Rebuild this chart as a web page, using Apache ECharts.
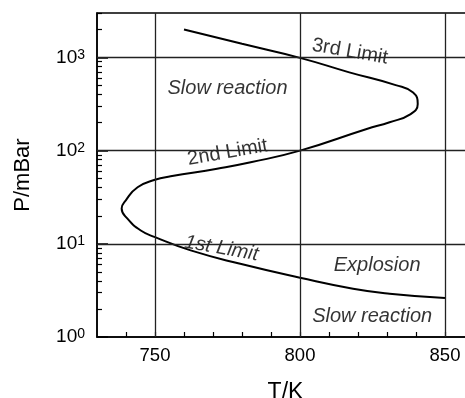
<!DOCTYPE html>
<html>
<head>
<meta charset="utf-8">
<script src="https://cdn.jsdelivr.net/npm/echarts@6/dist/echarts.min.js"></script>
<style>html,body{margin:0;padding:0;background:#fff}#c{width:465px;height:398px}</style>
</head>
<body>
<div id="c"></div>
<script>
// Explosion-limit curve (T in K, P in mBar), traced in path order
const temperatureK = [760, 780, 800, 817, 833, 839, 840.6, 838, 830.9, 823, 800, 783, 771.4, 755.4, 750, 744, 740, 738.5, 740.5, 745.1, 750, 762.3, 779.4, 800, 818.3, 830.9, 850];
const pressureMbar = [2000, 1400, 990, 692, 505, 420, 317, 245, 202, 171, 100, 75, 64, 53, 48.7, 40.5, 29.5, 24, 18.6, 13.9, 11.8, 8.5, 6.1, 4.33, 3.30, 2.92, 2.62];

// Grid lines and ticks
const gridLinesT = [750, 800, 850];
const gridLinesP = [10, 100, 1000];
const xLabelValues = [750, 800, 850];
const xMinorTicks = [740, 750, 760, 770, 780, 790, 800, 810, 820, 830, 840, 850];
const yDecades = [1, 10, 100, 1000];
const yMinorTicks = [2,3,4,5,6,7,8,9,20,30,40,50,60,70,80,90,200,300,400,500,600,700,800,900,2000,3000];

// Region / curve annotations
const annotationText = ['Slow reaction', '3rd Limit', '2nd Limit', '1st Limit', 'Explosion', 'Slow reaction'];
const annotationT = [775, 817.2, 775, 772.9, 826.6, 824.9];
const annotationP = [463, 1154, 95.4, 8.93, 5.87, 1.67];

const FONT = 'Liberation Sans, Arial, Helvetica, sans-serif';
const annotationStyle = [
  {rotate: 0, fontStyle: 'italic'},
  {rotate: -10, fontStyle: 'normal'},
  {rotate: 10, fontStyle: 'normal'},
  {rotate: -10, fontStyle: 'italic'},
  {rotate: 0, fontStyle: 'italic'},
  {rotate: 0, fontStyle: 'italic'}
];

const curveData = temperatureK.map((t, i) => [t, pressureMbar[i]]);
const annData = annotationText.map((txt, i) => ({
  value: [annotationT[i], annotationP[i]],
  name: txt,
  label: {rotate: annotationStyle[i].rotate, fontStyle: annotationStyle[i].fontStyle}
}));

const chart = echarts.init(document.getElementById('c'), null, {renderer: 'canvas'});
chart.setOption({
  animation: false,
  backgroundColor: '#fff',
  grid: {left: 97, top: 13, bottom: 61, width: 377, show: true, borderColor: '#000', borderWidth: 1.5, backgroundColor: 'transparent', containLabel: false, outerBoundsMode: 'none'},
  xAxis: [{
    type: 'value', min: 730, max: 860,
    name: 'T/K', nameLocation: 'middle', nameGap: 44,
    nameTextStyle: {fontFamily: FONT, fontSize: 23, color: '#000'},
    axisLine: {show: true, lineStyle: {color: '#000', width: 1.5}},
    axisTick: {show: true, inside: true, length: 5, customValues: xMinorTicks, lineStyle: {color: '#000', width: 1.2}},
    axisLabel: {customValues: xLabelValues, fontFamily: FONT, fontSize: 18.5, color: '#000', margin: 9},
    splitLine: {show: false}
  }],
  yAxis: [{
    type: 'log', logBase: 10, min: 1, max: 3000,
    name: 'P/mBar', nameLocation: 'middle', nameGap: 63,
    nameTextStyle: {fontFamily: FONT, fontSize: 22, color: '#000'},
    axisLine: {show: true, lineStyle: {color: '#000', width: 1.5}},
    axisTick: {show: true, inside: true, length: 11, customValues: yDecades, lineStyle: {color: '#000', width: 1.5}},
    axisLabel: {
      customValues: yDecades, margin: 12,
      formatter: v => '{b|10}{s|' + Math.round(Math.log10(v)) + '}',
      rich: {
        b: {fontFamily: FONT, fontSize: 19, color: '#000', lineHeight: 19},
        s: {fontFamily: FONT, fontSize: 14, color: '#000', lineHeight: 14, verticalAlign: 'top'}
      }
    },
    splitLine: {show: false}
  }, {
    type: 'log', logBase: 10, min: 1, max: 3000, position: 'left', offset: 0,
    axisLine: {show: false},
    axisTick: {show: true, inside: true, length: 5, customValues: yMinorTicks, lineStyle: {color: '#000', width: 1.2}},
    axisLabel: {show: false},
    splitLine: {show: false}
  }],
  series: [{
    type: 'line',
    data: curveData,
    showSymbol: false,
    smooth: 0.5,
    lineStyle: {color: '#000', width: 2},
    z: 3,
    markLine: {
      silent: true, symbol: 'none', animation: false,
      label: {show: false},
      lineStyle: {color: '#222', width: 1.3, type: 'solid'},
      data: gridLinesT.map(t => ({xAxis: t})).concat(gridLinesP.map(p => ({yAxis: p})))
    }
  }, {
    type: 'scatter',
    data: annData,
    symbolSize: 0,
    silent: true,
    z: 4,
    label: {
      show: true, position: 'inside', formatter: p => p.name,
      fontFamily: FONT, fontSize: 20, color: '#000', align: 'center', verticalAlign: 'middle'
    }
  }]
});
</script>
</body>
</html>
